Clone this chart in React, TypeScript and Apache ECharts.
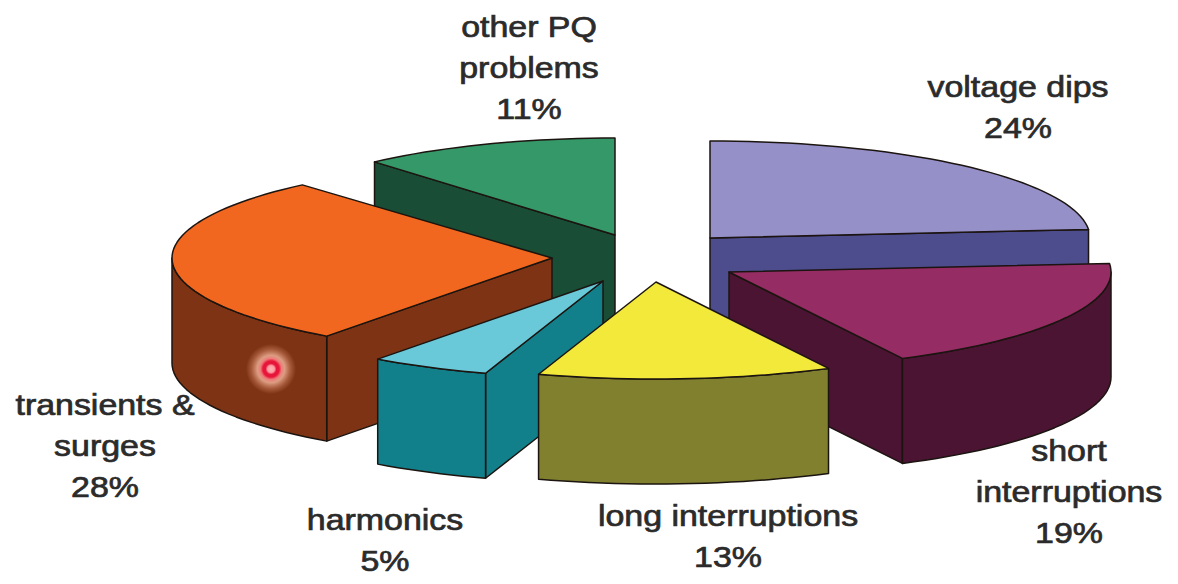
import React, { useEffect, useRef } from "react";
import * as echarts from "echarts";

// Clockwise from twelve o'clock. Values are the unrounded shares.
const sliceNames = [
  "voltage dips",
  "short\ninterruptions",
  "long interruptions",
  "harmonics",
  "transients &\nsurges",
  "other PQ\nproblems",
];
const sliceValues = [23.6, 18.9, 12.5, 5.1, 28.49, 11.41];

// Styling and layout, separate from the data
const topColors = ["#9590c8", "#952d64", "#f2e93a", "#69c9d9", "#f2671f", "#359868"];
const wallColors = ["#4d4d8e", "#4b1433", "#80802f", "#12808a", "#7e3414", "#1a4d35"];
const apexX = [710, 729, 656, 603, 552, 615];
const apexY = [238, 272, 282, 281, 258, 235];
const radiusX = [380, 382, 380, 380, 380, 366];
const labelX = [1018, 1069, 728, 385, 105, 529];
const labelY = [66, 430, 495, 499, 384, 6];
const drawOrder = [5, 0, 4, 1, 3, 2];
const radiusY = 97;
const depth = 105;
const lineHeight = 41;
const outline = "#1c1410";
const total = sliceValues.reduce((a, b) => a + b, 0);

const rad = (d: number) => (d * Math.PI) / 180;

function sliceAngles(i: number): [number, number] {
  let sum = 0;
  for (let k = 0; k < i; k++) sum += sliceValues[k];
  return [(sum / total) * 360, ((sum + sliceValues[i]) / total) * 360];
}

function rimPoint(i: number, deg: number, drop = 0): number[] {
  return [
    apexX[i] + radiusX[i] * Math.sin(rad(deg)),
    apexY[i] - radiusY * Math.cos(rad(deg)) + drop,
  ];
}

function arcPoints(i: number, from: number, to: number, drop = 0): number[][] {
  const steps = Math.max(2, Math.ceil((to - from) / 2));
  const out: number[][] = [];
  for (let s = 0; s <= steps; s++) out.push(rimPoint(i, from + ((to - from) * s) / steps, drop));
  return out;
}

function face(points: number[][], fill: string) {
  return {
    type: "polygon",
    silent: true,
    shape: { points },
    style: { fill, stroke: outline, lineWidth: 1.5, lineJoin: "round" },
  };
}

function renderSlice(_params: any, api: any) {
  const i = api.value(0) as number;
  const [start, end] = sliceAngles(i);
  const apex = [apexX[i], apexY[i]];
  const apexLow = [apexX[i], apexY[i] + depth];
  const wall = wallColors[i];
  const children: any[] = [];

  const radialWall = (deg: number) => {
    const a = rimPoint(i, deg);
    const b = rimPoint(i, deg, depth);
    children.push(face([apex, a, b, apexLow], wall));
  };
  // A straight cut wall faces the viewer only when its outward normal points down the screen.
  if (Math.sin(rad(start)) < -1e-6) radialWall(start);
  if (Math.sin(rad(end)) > 1e-6) radialWall(end);

  const wallFrom = Math.max(start, 90);
  const wallTo = Math.min(end, 270);
  if (wallTo > wallFrom) {
    const upper = arcPoints(i, wallFrom, wallTo);
    const lower = arcPoints(i, wallFrom, wallTo, depth).reverse();
    children.push(face([...upper, ...lower], wall));
  }
  children.push(face([apex, ...arcPoints(i, start, end)], topColors[i]));
  return { type: "group", children };
}

export default function App() {
  const ref = useRef<HTMLDivElement>(null);

  useEffect(() => {
    document.body.style.margin = "0";
    document.body.style.background = "#ffffff";
    const chart = echarts.init(ref.current!, null, { renderer: "svg" });
    chart.setOption({
      animation: false,
      backgroundColor: "#ffffff",
      series: [
        {
          type: "custom",
          coordinateSystem: "none",
          silent: true,
          renderItem: renderSlice,
          encode: { value: 0 },
          data: drawOrder.map((i) => [i, sliceValues[i]]),
        },
      ],
      graphic: [
        ...sliceNames.map((name, i) => ({
          type: "text",
          silent: true,
          z: 10,
          x: labelX[i],
          y: labelY[i],
          scaleX: 1.17,
          style: {
            text: `${name}\n${Math.round(sliceValues[i])}%`,
            align: "center",
            verticalAlign: "top",
            fontFamily: "Liberation Sans",
            fontSize: 29,
            lineHeight,
            fill: "#2b2b2b",
            stroke: "#2b2b2b",
            lineWidth: 0.7,
          },
        })),
        {
          type: "circle",
          silent: true,
          z: 9,
          shape: { cx: 271, cy: 369, r: 25 },
          style: {
            fill: {
              type: "radial",
              x: 0.5,
              y: 0.5,
              r: 0.5,
              colorStops: [
                { offset: 0, color: "#ffb4b4" },
                { offset: 0.14, color: "#ff9aa0" },
                { offset: 0.22, color: "#e8153a" },
                { offset: 0.32, color: "#e8153a" },
                { offset: 0.42, color: "#ee7a78" },
                { offset: 0.55, color: "rgba(236,175,150,0.85)" },
                { offset: 0.8, color: "rgba(230,150,120,0.35)" },
                { offset: 1, color: "rgba(230,150,120,0)" },
              ],
            },
          },
        },
      ],
    });
    return () => chart.dispose();
  }, []);

  return <div ref={ref} style={{ width: 1178, height: 584 }} />;
}
